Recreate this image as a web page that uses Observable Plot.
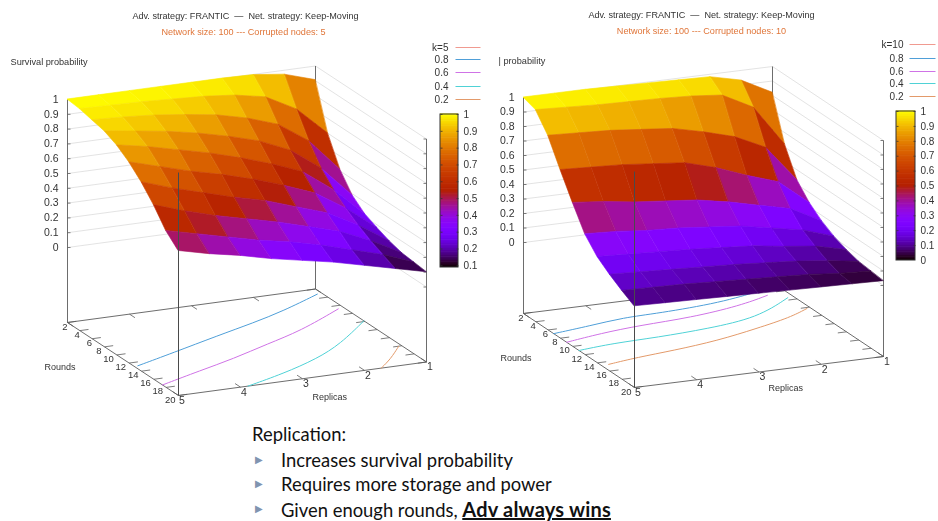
<!DOCTYPE html>
<html>
<head>
<meta charset="utf-8">
<script src="https://cdn.jsdelivr.net/npm/d3@7"></script>
<script src="https://cdn.jsdelivr.net/npm/@observablehq/plot@0.6"></script>
<style>
html,body{margin:0;padding:0;background:#fff;}
#page{position:relative;width:938px;height:521px;overflow:hidden;}
#left,#right{position:absolute;top:0;}
#left{left:0;} #right{left:490px;}
#page svg{display:block;filter:blur(0.4px);}
#notes{position:absolute;left:0;top:0;font-family:Lato,sans-serif;font-size:18.4px;color:#111;}
#notes div{position:absolute;white-space:nowrap;line-height:20px;}
#notes .b{color:#8094b0;font-size:10px;font-family:"DejaVu Sans";}
#notes b{font-size:20px;letter-spacing:0.2px;}
</style>
</head>
<body>
<div id="page"><div id="left"></div><div id="right"></div><div id="notes"></div></div>
<script>
// ---- data ----
const replicaGrid = [1, 1.5, 2, 2.5, 3, 3.5, 4, 4.5, 5];
const roundGrid = [2, 4, 6, 8, 10, 12, 14, 16, 18, 20];
const zTicks = [0, 0.1, 0.2, 0.3, 0.4, 0.5, 0.6, 0.7, 0.8, 0.9, 1];
const replicaTicks = [1, 2, 3, 4, 5];
const roundTicks = [2, 4, 6, 8, 10, 12, 14, 16, 18, 20];

// survival probability: one row per replica value, one column per round value
const survivalK5 = [
  [0.905, 0.60, 0.41, 0.29, 0.22, 0.18, 0.145, 0.12, 0.11, 0.10],
  [0.97, 0.79, 0.63, 0.50, 0.41, 0.34, 0.28, 0.23, 0.19, 0.15],
  [0.995, 0.90, 0.77, 0.65, 0.56, 0.47, 0.39, 0.32, 0.25, 0.20],
  [1, 0.94, 0.84, 0.74, 0.64, 0.55, 0.46, 0.38, 0.31, 0.25],
  [1, 0.96, 0.89, 0.80, 0.71, 0.62, 0.53, 0.44, 0.36, 0.29],
  [1, 0.97, 0.92, 0.85, 0.77, 0.68, 0.58, 0.49, 0.40, 0.33],
  [1, 0.98, 0.945, 0.89, 0.82, 0.73, 0.64, 0.54, 0.45, 0.38],
  [1, 0.985, 0.96, 0.92, 0.87, 0.79, 0.70, 0.60, 0.50, 0.42],
  [1, 0.99, 0.97, 0.95, 0.91, 0.85, 0.77, 0.67, 0.55, 0.47]
];
const survivalK10 = [
  [0.82, 0.52, 0.33, 0.23, 0.16, 0.11, 0.075, 0.05, 0.04, 0.03],
  [0.93, 0.80, 0.58, 0.40, 0.27, 0.18, 0.125, 0.08, 0.05, 0.035],
  [0.98, 0.91, 0.68, 0.47, 0.32, 0.22, 0.15, 0.105, 0.07, 0.04],
  [0.985, 0.93, 0.74, 0.55, 0.37, 0.26, 0.18, 0.12, 0.08, 0.045],
  [0.99, 0.94, 0.79, 0.61, 0.41, 0.28, 0.195, 0.135, 0.09, 0.05],
  [0.995, 0.945, 0.81, 0.63, 0.43, 0.30, 0.21, 0.145, 0.10, 0.055],
  [1, 0.95, 0.83, 0.65, 0.45, 0.31, 0.22, 0.155, 0.11, 0.06],
  [1, 0.96, 0.84, 0.66, 0.48, 0.33, 0.23, 0.165, 0.115, 0.065],
  [1, 0.97, 0.85, 0.67, 0.50, 0.34, 0.24, 0.175, 0.12, 0.07]
];

// contour lines on the floor, as [replicas, rounds]
const k5Level8 = [[4.94,12.8],[4.2,11.1],[3.26,8.85],[2.52,7.2],[1.88,5.6],[1.08,3.1]];
const k5Level6 = [[5,17.4],[4.2,15.5],[3.52,14],[2.76,11.9],[2.05,10.15],[1.1,6.7]];
const k5Level4 = [[3.88,20],[3.15,18.4],[2.4,16.3],[1.78,13.9],[1,9.85]];
const k5Level2 = [[1.73,20],[1.42,18.4],[1.05,16]];
const k10Level8 = [[5,6.9],[4.34,6.2],[3.73,5.4],[3.19,5.4],[2.1,4.8],[1.3,3.3]];
const k10Level6 = [[5,9],[4.36,8.06],[3.66,7.4],[2.82,7.1],[1.9,5.9],[1.33,4.5]];
const k10Level4 = [[5,11],[4.39,10.4],[3.67,10.3],[2.81,9.8],[1.91,8.8],[1.1,5.5]];
const k10Level2 = [[4.88,14.6],[4.35,13.9],[3.72,13.4],[2.92,12.5],[2.14,11],[1.47,9.6],[1.06,8.2]];

const levelColors = ["#f09a90", "#4f9fd8", "#cf73e6", "#4fd2d6", "#e39a6a"];
const barLabels = [1, 0.9, 0.8, 0.7, 0.6, 0.5, 0.4, 0.3, 0.2, 0.1];

const titleLine = "Adv. strategy: FRANTIC  —  Net. strategy: Keep-Moving";
const notes = ["Increases survival probability", "Requires more storage and power", "Given enough rounds, "];
const notesStrong = "Adv always wins";

// gnuplot's default pm3d palette
const palette = t => {
  const c = v => Math.round(255 * Math.max(0, Math.min(1, v)));
  return `rgb(${c(Math.sqrt(t))},${c(t * t * t)},${c(Math.sin(2 * Math.PI * t))})`;
};

function panel(cfg) {
  const {view, table} = cfg;
  // orthographic view of the gnuplot box
  const P = (R, r, z = null) => {
    const u = (5 - R) / 4, v = (r - 2) / 18;
    const x = view.x0 + u * view.ux + v * view.vx;
    const base = view.y0 + u * view.uy + v * view.vy;
    return {x, y: z === null ? base : base - view.lift - z * view.zs};
  };
  const cells = [];
  roundGrid.slice(0, -1).forEach((rd, j) => {
    replicaGrid.slice(0, -1).forEach((rp, i) => {
      const v = (table[i][j] + table[i + 1][j] + table[i][j + 1] + table[i + 1][j + 1]) / 4;
      const a = P(rp, rd, table[i][j]), b = P(replicaGrid[i + 1], rd, table[i + 1][j]);
      const c = P(replicaGrid[i + 1], roundGrid[j + 1], table[i + 1][j + 1]), d = P(rp, roundGrid[j + 1], table[i][j + 1]);
      const id = j * 100 + i;
      cells.push({id, v, x1: a.x, y1: a.y, x2: d.x, y2: d.y});
      cells.push({id, v, x1: b.x, y1: b.y, x2: c.x, y2: c.y});
    });
  });
  const seg = (A, B) => ({x1: A.x, y1: A.y, x2: B.x, y2: B.y});
  const high = (R, r) => P(R, r, 1);

  const grid = zTicks.flatMap(z => [
    seg(P(5, 2, z), P(1, 2, z)),
    seg(P(1, 2, z), P(1, 20, z))
  ]);
  const frameBack = [
    seg(P(5, 2), P(1, 2)),
    seg(P(1, 2), P(1, 20)),
    seg(P(1, 20), P(5, 20)),
    seg(P(5, 20), P(5, 2)),
    seg(P(5, 2), high(5, 2)),
    seg(P(1, 2), high(1, 2)),
    seg(P(1, 20), high(1, 20))
  ];
  const tickLen = 0.035;
  const floorTicks = [
    ...replicaTicks.map(R => seg(P(R, 20), P(R, 20 - 18 * tickLen * 1.4))),
    ...replicaTicks.map(R => seg(P(R, 2), P(R, 2 + 18 * tickLen * 1.4))),
    ...roundTicks.map(r => seg(P(5, r), P(5 - 4 * tickLen, r))),
    ...roundTicks.map(r => seg(P(1, r), P(1 + 4 * tickLen, r)))
  ];
  const zMarks = zTicks.flatMap(z => {
    const a = P(5, 2, z), b = P(1, 20, z);
    return [seg(a, {x: a.x + 3, y: a.y}), seg(b, {x: b.x - 3, y: b.y})];
  });
  const frontEdge = [seg(P(5, 20), high(5, 20))];

  const contourRows = cfg.levels.flatMap((pts, k) =>
    pts.map(([R, r]) => ({k: k + 1, ...P(R, r)})));

  const bar = cfg.bar;
  const barY = v => bar.yBottom + (v - bar.vBottom) / (bar.vTop - bar.vBottom) * (bar.yTop - bar.yBottom);
  const barStep = (bar.vTop - bar.vBottom) / 90;
  const barSteps = d3.range(0, 90).map(i => bar.vBottom + i * barStep);

  const axisColor = "#5c5c5c";
  const font = {fontFamily: "Liberation Sans, Arial, sans-serif", fill: "#333"};

  return Plot.plot({
    width: cfg.domainX[1] - cfg.domainX[0],
    height: 410,
    margin: 0,
    x: {domain: cfg.domainX, range: [0, cfg.domainX[1] - cfg.domainX[0]], axis: null},
    y: {domain: [0, 410], range: [0, 410], axis: null},
    color: {type: "linear", domain: [bar.vBottom, bar.vTop], interpolate: palette},
    style: {background: "transparent", overflow: "visible"},
    marks: [
      Plot.link(grid, {x1: "x1", y1: "y1", x2: "x2", y2: "y2", stroke: "#dcdcdc", strokeWidth: 0.8}),
      Plot.link(frameBack, {x1: "x1", y1: "y1", x2: "x2", y2: "y2", stroke: axisColor, strokeWidth: 0.9}),
      Plot.link(floorTicks, {x1: "x1", y1: "y1", x2: "x2", y2: "y2", stroke: axisColor, strokeWidth: 0.8}),
      Plot.link(zMarks, {x1: "x1", y1: "y1", x2: "x2", y2: "y2", stroke: axisColor, strokeWidth: 0.8}),
      Plot.line(contourRows, {x: "x", y: "y", z: "k", stroke: d => levelColors[d.k], strokeWidth: 1, curve: "basis"}),
      Plot.area(cells, {x1: "x1", y1: "y1", x2: "x2", y2: "y2", z: "id", fill: "v", stroke: "v", strokeWidth: 0.6}),
      Plot.link(frontEdge, {x1: "x1", y1: "y1", x2: "x2", y2: "y2", stroke: "#4a4a4a", strokeWidth: 1}),

      // z axis labels
      Plot.text(zTicks, {x: d => P(5, 2, d).x - 9, y: d => P(5, 2, d).y, text: d => String(d), textAnchor: "end", fontSize: 10.5, ...font}),
      // floor labels
      Plot.text(replicaTicks, {x: d => P(d, 20).x + 3.5, y: d => P(d, 20).y + 5, text: d => String(d), fontSize: 10.5, ...font}),
      Plot.text(roundTicks, {x: d => P(5, d).x - (d >= 8 ? 3 : 0), y: d => P(5, d).y + 4, text: d => String(d), textAnchor: "end", fontSize: 9.5, ...font}),
      // names
      Plot.text([cfg.zName], {x: d => d.x, y: d => d.y, text: d => d.text, textAnchor: "start", fontSize: 9.2, ...font}),
      Plot.text(["Rounds"], {x: cfg.roundsAt[0], y: cfg.roundsAt[1], text: d => d, textAnchor: "start", fontSize: 9, ...font}),
      Plot.text(["Replicas"], {x: cfg.replicasAt[0], y: cfg.replicasAt[1], text: d => d, textAnchor: "start", fontSize: 9, ...font}),
      // titles
      Plot.text([titleLine], {x: cfg.titleX, y: cfg.titleY, text: d => d, fontSize: 9.1, ...font}),
      Plot.text([cfg.subtitle], {x: cfg.subX, y: cfg.titleY + 16, text: d => d, fontSize: 9.1, fontFamily: font.fontFamily, fill: "#e0763a"}),
      // line key
      Plot.text(cfg.keyNames, {x: cfg.key.labelX, y: (d, i) => cfg.key.y[i], text: d => d, textAnchor: "end", fontSize: 10, ...font}),
      Plot.link(cfg.keyNames, {x1: cfg.key.x1, x2: cfg.key.x2, y1: (d, i) => cfg.key.y[i], y2: (d, i) => cfg.key.y[i], stroke: (d, i) => levelColors[i], strokeWidth: 1}),
      // colour bar
      Plot.rect(barSteps, {x1: bar.x1, x2: bar.x2, y1: d => barY(d), y2: d => barY(d + barStep) - 0.6, fill: d => d + barStep / 2}),
      Plot.rect([0], {x1: bar.x1, x2: bar.x2, y1: barY(bar.vBottom), y2: barY(bar.vTop), stroke: "#333", strokeWidth: 1, fill: "none"}),
      Plot.link(barLabels.filter(v => v >= bar.vBottom), {x1: bar.x1, x2: bar.x1 + 2, y1: barY, y2: barY, stroke: "#333", strokeWidth: 0.8}),
      Plot.link(barLabels.filter(v => v >= bar.vBottom), {x1: bar.x2 - 2, x2: bar.x2, y1: barY, y2: barY, stroke: "#333", strokeWidth: 0.8}),
      Plot.text(cfg.barTicks, {x: bar.x2 + 5, y: barY, text: d => String(d), textAnchor: "start", fontSize: 10, ...font})
    ]
  });
}

document.getElementById("left").append(panel({
  table: survivalK5,
  levels: [k5Level8, k5Level6, k5Level4, k5Level2],
  view: {x0: 67, y0: 322, ux: 248, uy: -33.5, vx: 111, vy: 73, lift: 75, zs: 148},
  domainX: [0, 490],
  subtitle: "Network size: 100 --- Corrupted nodes: 5",
  titleX: 245, subX: 243, titleY: 16,
  zName: {x: 10, y: 62, text: "Survival probability"},
  roundsAt: [44, 367], replicasAt: [312, 397],
  keyNames: ["k=5", "0.8", "0.6", "0.4", "0.2"],
  key: {labelX: 448, x1: 455, x2: 480, y: [47, 59, 72, 86, 99]},
  bar: {x1: 440, x2: 458, yTop: 114, yBottom: 267, vTop: 1, vBottom: 0.09},
  barTicks: barLabels
}));

document.getElementById("right").append(panel({
  table: survivalK10,
  levels: [k10Level8, k10Level6, k10Level4, k10Level2],
  view: {x0: 523, y0: 313, ux: 249, uy: -31, vx: 111, vy: 74, lift: 71, zs: 145},
  domainX: [490, 938],
  subtitle: "Network size: 100 --- Corrupted nodes: 10",
  titleX: 701, subX: 701, titleY: 15,
  zName: {x: 498, y: 61, text: "| probability"},
  roundsAt: [500, 358], replicasAt: [768, 388],
  keyNames: ["k=10", "0.8", "0.6", "0.4", "0.2"],
  key: {labelX: 903, x1: 909, x2: 935, y: [44, 58, 71, 83, 96]},
  bar: {x1: 896, x2: 915, yTop: 111, yBottom: 260, vTop: 1, vBottom: 0},
  barTicks: [...barLabels, 0]
}));

// caption below the charts
const box = document.getElementById("notes");
const add = (html, x, y, cls) => {
  const d = document.createElement("div");
  d.innerHTML = html; d.style.left = x + "px"; d.style.top = y + "px";
  if (cls) d.className = cls;
  box.append(d);
};
add("Replication:", 252, 424);
notes.forEach((t, i) => {
  const y = [450, 474, 499][i];
  add("▶", 255, y, "b");
  add(t + (i === 2 ? `<b style="text-decoration:underline">${notesStrong}</b>` : ""), 281, y);
});
</script>
</body>
</html>
